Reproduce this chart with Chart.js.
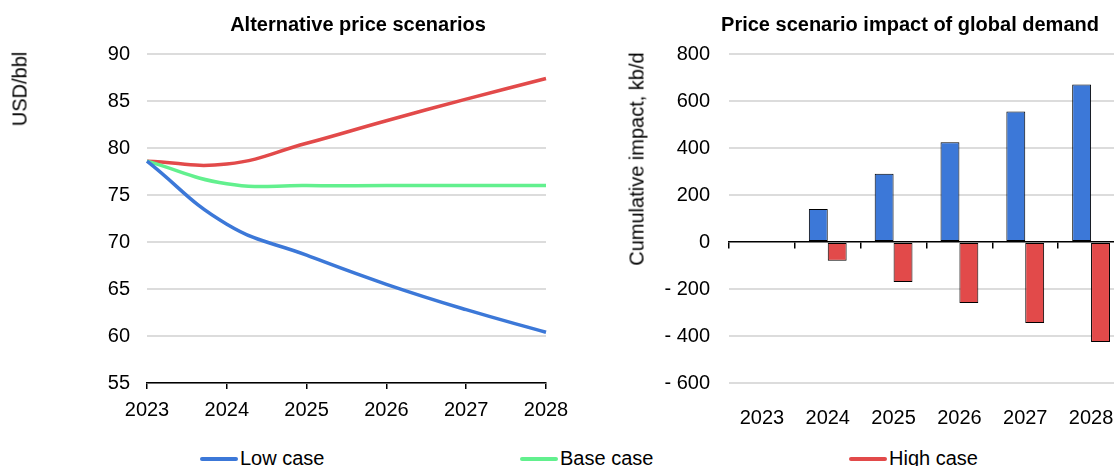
<!DOCTYPE html>
<html>
<head>
<meta charset="utf-8">
<script src="https://cdn.jsdelivr.net/npm/chart.js@4.4.1/dist/chart.umd.min.js"></script>
<style>
  html, body { margin: 0; padding: 0; width: 1114px; height: 466px; overflow: hidden; background: #fff; }
  body { position: relative; font-family: 'Liberation Sans', Arial, sans-serif; color: #000; }
  .box { position: absolute; top: 0; height: 430px; }
  .ttl { position: absolute; top: 12px; font-size: 20px; line-height: 24px; font-weight: bold; white-space: nowrap; transform: translateX(-50%); }
  .ytitle { position: absolute; font-size: 20px; white-space: nowrap; transform: translate(-50%, -50%) rotate(-90deg); }
  .lg { position: absolute; top: 446px; font-size: 20px; line-height: 24px; white-space: nowrap; }
  .lg i { display: inline-block; width: 38px; height: 4px; border-radius: 2px; vertical-align: middle; margin-right: 2px; position: relative; top: -1px; }
</style>
</head>
<body>
<div class="box" style="left:20px;width:675px"><canvas id="priceC"></canvas></div>
<div class="box" style="left:640px;width:541px"><canvas id="demandC"></canvas></div>

<div class="ttl" style="left:358px">Alternative price scenarios</div>
<div class="ttl" style="left:910px">Price scenario impact of global demand</div>

<div class="ytitle" style="left:20px;top:89px">USD/bbl</div>
<div class="ytitle" style="left:637px;top:159px">Cumulative impact, kb/d</div>

<div class="lg" style="left:200px"><i style="background:#3c78d8"></i>Low case</div>
<div class="lg" style="left:520px"><i style="background:#62f08e"></i>Base case</div>
<div class="lg" style="left:849px"><i style="background:#e24a4a"></i>High case</div>

<script>
// years shared by both panels
const years = ['2023', '2024', '2025', '2026', '2027', '2028'];

// oil price paths, USD/bbl
const lowPrice = [78.6, 71.9, 68.6, 65.5, 62.8, 60.4];
const basePrice = [78.6, 76.2, 76.0, 76.0, 76.0, 76.0];
const highPrice = [78.6, 78.3, 80.5, 82.9, 85.2, 87.4];

// cumulative demand impact, kb/d
const lowImpact = [0, 140, 290, 425, 555, 670];
const highImpact = [0, -80, -170, -260, -345, -425];

const BLUE = '#3c78d8';
const GREEN = '#62f08e';
const RED = '#e24a4a';
const GRID = '#dcdcdc';

Chart.defaults.font.family = "'Liberation Sans', Arial, sans-serif";
Chart.defaults.font.size = 20;
Chart.defaults.color = '#000';
Chart.defaults.animation = false;

const lineDS = (label, data, color) => ({
  label,
  data,
  borderColor: color,
  backgroundColor: color,
  borderWidth: 3.5,
  pointRadius: 0,
  tension: 0.45,
  fill: false
});

const barDS = (label, data, color) => ({
  label,
  data,
  backgroundColor: color,
  borderColor: '#000',
  borderWidth: 1,
  borderSkipped: false,
  categoryPercentage: 0.574,
  barPercentage: 1
});

new Chart(document.getElementById('priceC'), {
  type: 'line',
  data: {
    labels: years,
    datasets: [
      lineDS('Low case', lowPrice, BLUE),
      lineDS('Base case', basePrice, GREEN),
      lineDS('High case', highPrice, RED)
    ]
  },
  options: {
    responsive: true,
    maintainAspectRatio: false,
    layout: { padding: { left: 0, right: 149, top: 54, bottom: 0 } },
    plugins: {
      legend: { display: false },
      tooltip: { enabled: false }
    },
    scales: {
      x: {
        offset: false,
        grid: { drawOnChartArea: false, color: '#000', lineWidth: 1.5, tickLength: 6 },
        border: { color: '#000', width: 1.5 },
        ticks: { padding: 9, maxRotation: 0, autoSkip: false },
        afterFit: s => { s.height = 47; }
      },
      y: {
        min: 55,
        max: 90,
        ticks: { stepSize: 5, padding: 17 },
        grid: { color: GRID, lineWidth: 2, drawTicks: false },
        border: { display: false },
        afterFit: s => { s.width = 127; }
      }
    }
  }
});

new Chart(document.getElementById('demandC'), {
  type: 'bar',
  data: {
    labels: years,
    datasets: [
      barDS('Low case', lowImpact, BLUE),
      barDS('High case', highImpact, RED)
    ]
  },
  options: {
    responsive: true,
    maintainAspectRatio: false,
    layout: { padding: { left: 0, right: 57, top: 54, bottom: 0 } },
    plugins: {
      legend: { display: false },
      tooltip: { enabled: false }
    },
    scales: {
      x: {
        offset: true,
        grid: { display: false },
        border: { display: false },
        ticks: { padding: 15, maxRotation: 0, autoSkip: false },
        afterFit: s => { s.height = 47; }
      },
      // zero line with tick marks between the year groups
      x0: {
        type: 'category',
        position: { y: 0 },
        offset: true,
        grid: { offset: true, drawOnChartArea: false, color: '#000', lineWidth: 1.5, tickLength: 6 },
        border: { color: '#000', width: 1.5 },
        ticks: { display: false }
      },
      y: {
        min: -600,
        max: 800,
        ticks: {
          stepSize: 200,
          padding: 19,
          callback: v => v < 0 ? '- ' + Math.abs(v) : String(v)
        },
        grid: {
          color: ctx => ctx.tick && ctx.tick.value === 0 ? 'rgba(0,0,0,0)' : GRID,
          lineWidth: 2,
          drawTicks: false
        },
        border: { display: false },
        afterFit: s => { s.width = 89; }
      }
    }
  }
});
</script>
</body>
</html>
